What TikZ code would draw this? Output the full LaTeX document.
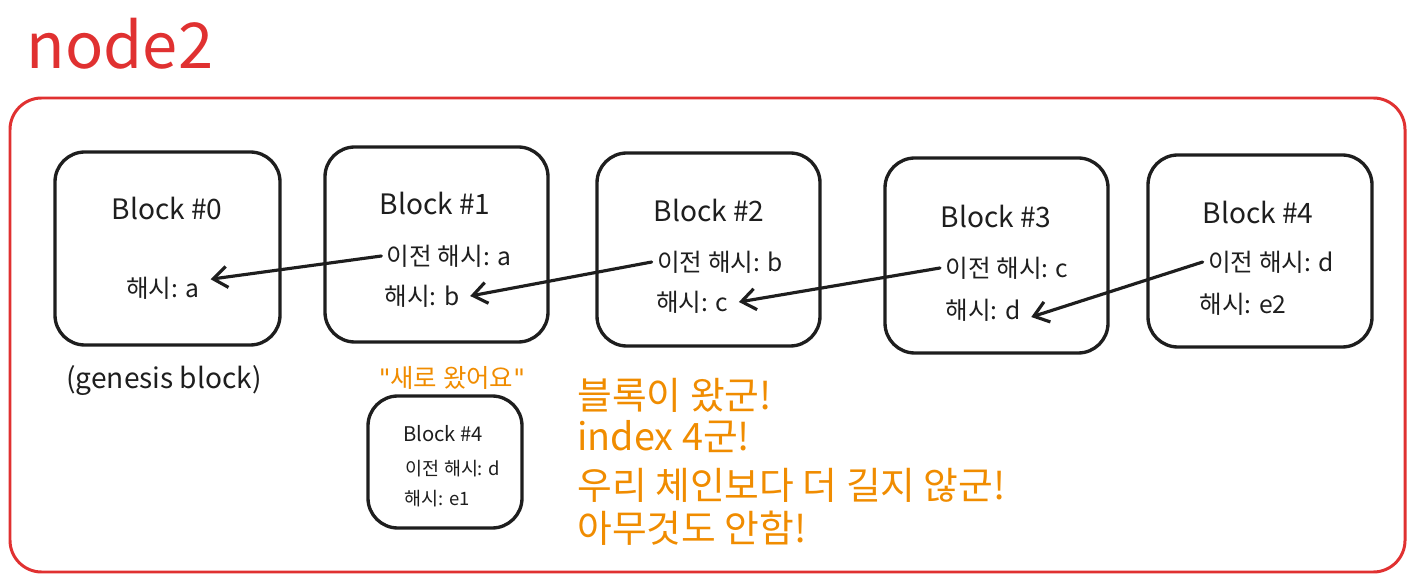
\documentclass[tikz,border=0pt]{standalone}
\usepackage{fontspec}
\setmainfont{Noto Sans CJK KR}
\newfontfamily\quotefont{DejaVu Sans}
\usetikzlibrary{arrows.meta}
\definecolor{xred}{HTML}{E03131}
\definecolor{xorange}{HTML}{F08C00}
\definecolor{xink}{HTML}{1E1E1E}
\begin{document}
\begin{tikzpicture}[x=0.02cm,y=-0.02cm,line join=round,line cap=round,
	>={Straight Barb[length=8pt,width=12pt,line width=1.8pt]},
	blk/.style={draw=xink,line width=1.9pt,rounded corners=17pt},
	lnk/.style={->,draw=xink,line width=1.8pt},
	ttl/.style={text=xink,font=\fontsize{16}{18}\selectfont,inner sep=1pt},
	txt/.style={text=xink,font=\fontsize{14}{16}\selectfont,inner sep=3pt},
	say/.style={text=xorange,font=\fontsize{21.5}{24}\selectfont,anchor=west,inner sep=0pt}]
	\useasboundingbox (0,0) rectangle (1415,580);
	\node[text=xred,font=\fontsize{36}{40}\selectfont] (title) at (120,44) {node2};
	\draw[draw=xred,line width=1.7pt,rounded corners=18pt] (10,98) rectangle (1405,572);
	% chain
	\draw[blk] (55,152) rectangle (280,345);
	\draw[blk] (325,147) rectangle (548,342);
	\draw[blk] (597,153) rectangle (820,346);
	\draw[blk] (885,158) rectangle (1108,353);
	\draw[blk] (1148,155) rectangle (1372,347);
	\node[ttl] (n0) at (167,208) {Block \#0};
	\node[txt] (h0) at (163,288) {해시: a};
	\node[ttl] (n1) at (435,203) {Block \#1};
	\node[txt] (p1) at (449,256) {이전 해시: a};
	\node[txt] (h1) at (422,296) {해시: b};
	\node[ttl] (n2) at (709,210) {Block \#2};
	\node[txt] (p2) at (720,262) {이전 해시: b};
	\node[txt] (h2) at (692,302) {해시: c};
	\node[ttl] (n3) at (996,216) {Block \#3};
	\node[txt] (p3) at (1007,268) {이전 해시: c};
	\node[txt] (h3) at (983,310) {해시: d};
	\node[ttl] (n4) at (1258,212) {Block \#4};
	\node[txt] (p4) at (1271,262) {이전 해시: d};
	\node[txt] (h4) at (1243,304) {해시: e2};
	\draw[lnk] (p1.west) -- ([xshift=3pt,yshift=5pt]h0.east);
	\draw[lnk] (p2.west) -- ([xshift=3pt]h1.east);
	\draw[lnk] (p3.west) -- ([xshift=3pt]h2.east);
	\draw[lnk] (p4.west) -- ([xshift=3pt,yshift=-4pt]h3.east);
	\node[ttl] (gen) at (164,381) {(genesis block)};
	% incoming block
	\node[text=xorange,font=\fontsize{14.5}{16}\selectfont] (new) at (452,378) {{\quotefont\symbol{34}}새로 왔어요{\quotefont\symbol{34}}};
	\draw[blk] (368,396) rectangle (522,528);
	\node[txt,font=\fontsize{11.5}{13}\selectfont] (m4) at (443,434) {Block \#4};
	\node[txt,font=\fontsize{10.5}{12}\selectfont] (mp) at (453,469) {이전 해시: d};
	\node[txt,font=\fontsize{10.5}{12}\selectfont] (mh) at (437,499) {해시: e1};
	\node[say] (s1) at (577,395) {블록이 왔군!};
	\node[say] (s2) at (577,437) {index 4군!};
	\node[say] (s3) at (577,485) {우리 체인보다 더 길지 않군!};
	\node[say] (s4) at (577,528) {아무것도 안함!};
\end{tikzpicture}
\end{document}
